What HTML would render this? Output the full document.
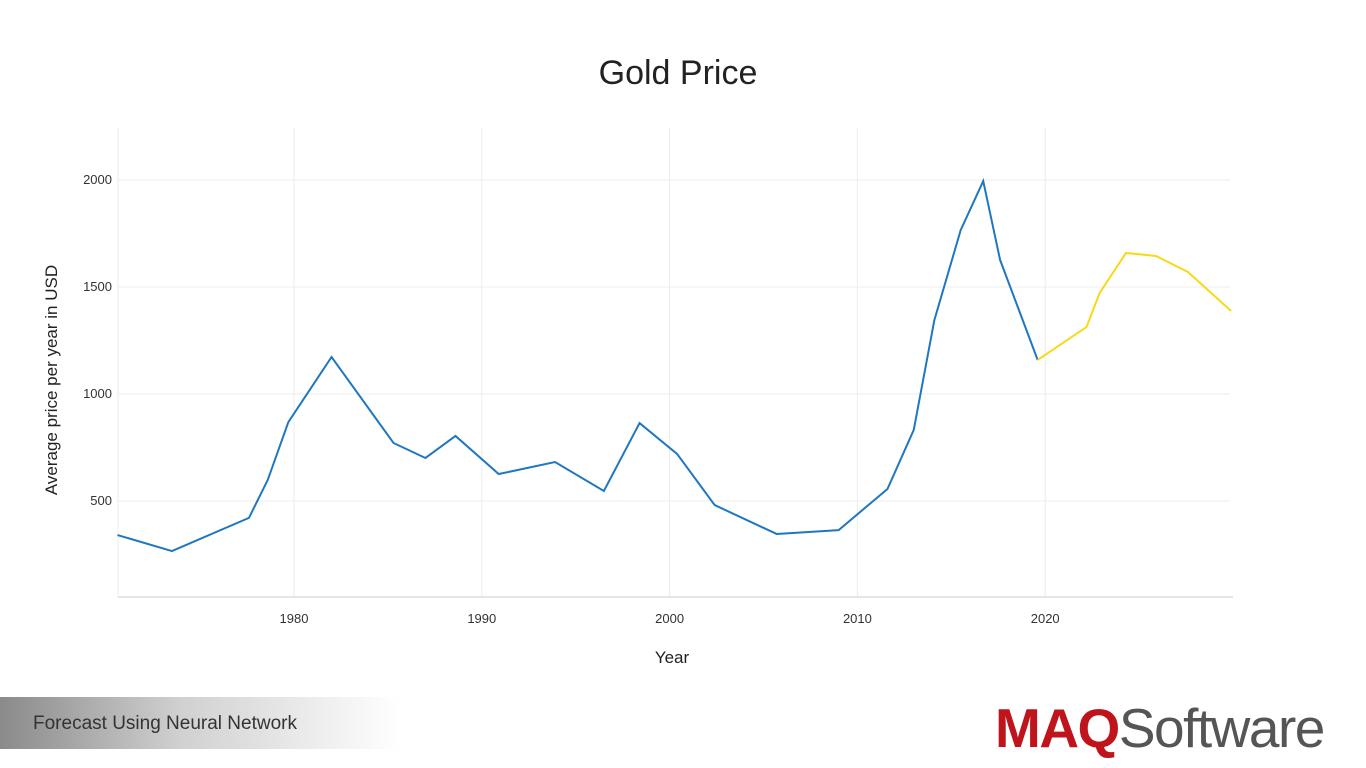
<!DOCTYPE html>
<html><head><meta charset="utf-8"><style>
body{margin:0;width:1366px;height:768px;background:#fff;font-family:"Liberation Sans",sans-serif;overflow:hidden;position:relative}
#footer-box{position:absolute;left:0;top:697px;width:400px;height:52px;background:linear-gradient(90deg,#8a8a8a 0%,#d0d0d0 45%,#fff 100%)}
#footer-text{position:absolute;left:33px;top:713px;font-size:19px;color:#333}
#logo{position:absolute;left:995px;top:696px;font-size:55px;letter-spacing:-1.5px;white-space:nowrap}
</style></head><body>
<div id="footer-box"></div>
<div id="footer-text">Forecast Using Neural Network</div>
<div id="logo"><span style="color:#c0141c;font-weight:bold">MAQ</span><span style="color:#555">Software</span></div>
<svg id="chart" width="1366" height="690" style="position:absolute;left:0;top:0"></svg>
<script>
const histYears=[1970.6,1973.5,1977.6,1978.6,1979.7,1982.0,1985.3,1987.0,1988.6,1990.9,1993.9,1996.5,1998.4,2000.4,2002.4,2005.7,2009.0,2011.6,2013.0,2014.1,2015.5,2016.7,2017.6,2019.6];
const histValues=[341,266,421,598,869,1173,771,701,804,626,682,547,864,720,481,346,364,556,832,1346,1766,1995,1626,1159];
const fcYears=[2019.6,2022.2,2022.9,2024.3,2025.9,2027.6,2029.9];
const fcValues=[1159,1313,1472,1659,1645,1570,1388];
const xTicks=[1980,1990,2000,2010,2020];
const yTicks=[500,1000,1500,2000];
const NS="http://www.w3.org/2000/svg";
const svg=document.getElementById('chart');
const X=y=>294+(y-1980)*18.78;
const Y=v=>608-v*0.214;
function el(t,a,txt){const e=document.createElementNS(NS,t);for(const k in a)e.setAttribute(k,a[k]);if(txt!==undefined)e.textContent=txt;svg.appendChild(e);return e;}
let t=el('text',{x:678,y:84,'text-anchor':'middle','font-size':34,fill:'#222'},'Gold Price');


xTicks.forEach(v=>{
 let g=el('line',{x1:X(v),x2:X(v),y1:128,y2:597,stroke:'#ececec'});
 
 
 let l=el('text',{x:X(v),y:623,'text-anchor':'middle','font-size':13,fill:'#333'},v);
 
 
});
yTicks.forEach(v=>{
 let g=el('line',{x1:118,x2:1230,y1:Y(v),y2:Y(v),stroke:'#ececec'});
 
 
 let l=el('text',{x:112,y:Y(v)+4,'text-anchor':'end','font-size':13,fill:'#333'},v);
 
 
});
let ax=el('line',{x1:118,x2:1233,y1:597,y2:597,stroke:'#ccc'});


let ay=el('line',{x1:118,x2:118,y1:128,y2:597,stroke:'#eee'});


let xt=el('text',{x:672,y:663,'text-anchor':'middle','font-size':17,fill:'#222'},'Year');


let yt=el('text',{x:0,y:0,'text-anchor':'middle','font-size':17,fill:'#222',transform:'translate(57,380) rotate(-90)'},'Average price per year in USD');


let h=el('polyline',{points:histYears.map((y,i)=>X(y)+','+Y(histValues[i])).join(' '),fill:'none',stroke:'#1f77c0','stroke-width':2});


let f=el('polyline',{points:fcYears.map((y,i)=>X(y)+','+Y(fcValues[i])).join(' '),fill:'none',stroke:'#f7d917','stroke-width':2});


</script>
</body></html>
